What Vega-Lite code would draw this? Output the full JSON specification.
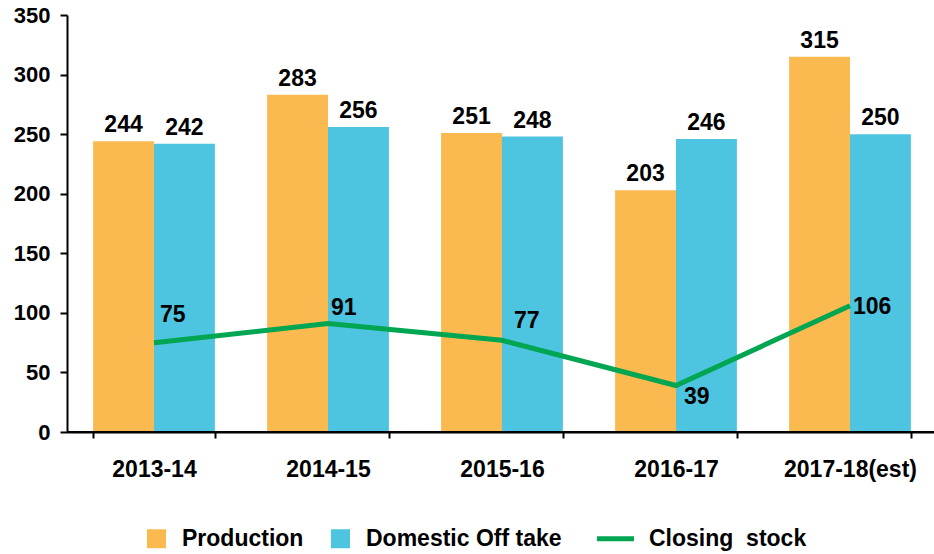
{
  "$schema": "https://vega.github.io/schema/vega-lite/v6.json",
  "width": 870,
  "height": 417,
  "autosize": "none",
  "padding": {"left": 67, "top": 15, "right": 0, "bottom": 122},
  "background": "white",
  "config": {
    "font": "Liberation Sans",
    "view": {"stroke": null},
    "axis": {
      "grid": false,
      "labelFont": "Liberation Sans",
      "labelFontWeight": "bold",
      "labelFontSize": 22,
      "labelColor": "black",
      "domainColor": "black",
      "tickColor": "black",
      "domainWidth": 2,
      "tickWidth": 2
    },
    "text": {"font": "Liberation Sans", "fontWeight": "bold", "fontSize": 23, "color": "black"}
  },
  "data": {
    "values": [
      {"year": "2013-14", "series": "Production", "value": 244},
      {"year": "2013-14", "series": "Domestic Off take", "value": 242},
      {"year": "2013-14", "series": "Closing  stock", "value": 75},
      {"year": "2014-15", "series": "Production", "value": 283},
      {"year": "2014-15", "series": "Domestic Off take", "value": 256},
      {"year": "2014-15", "series": "Closing  stock", "value": 91},
      {"year": "2015-16", "series": "Production", "value": 251},
      {"year": "2015-16", "series": "Domestic Off take", "value": 248},
      {"year": "2015-16", "series": "Closing  stock", "value": 77},
      {"year": "2016-17", "series": "Production", "value": 203},
      {"year": "2016-17", "series": "Domestic Off take", "value": 246},
      {"year": "2016-17", "series": "Closing  stock", "value": 39},
      {"year": "2017-18(est)", "series": "Production", "value": 315},
      {"year": "2017-18(est)", "series": "Domestic Off take", "value": 250},
      {"year": "2017-18(est)", "series": "Closing  stock", "value": 106}
    ]
  },
  "encoding": {
    "x": {
      "field": "year",
      "type": "nominal",
      "sort": null,
      "scale": {"paddingInner": 0.3, "paddingOuter": 0.15},
      "axis": {"title": null, "labelAngle": 0, "labelFontSize": 23, "tickBand": "extent", "tickSize": 6, "labelPadding": 20}
    },
    "y": {
      "field": "value",
      "type": "quantitative",
      "scale": {"domain": [0, 350]},
      "axis": {"title": null, "values": [0, 50, 100, 150, 200, 250, 300, 350], "tickSize": 7, "labelPadding": 10}
    }
  },
  "layer": [
    {
      "transform": [{"filter": "datum.series !== 'Closing  stock'"}],
      "mark": {"type": "bar"},
      "encoding": {
        "xOffset": {"field": "series", "type": "nominal", "sort": ["Production", "Domestic Off take"], "scale": {"paddingInner": 0, "paddingOuter": 0}},
        "color": {
          "field": "series",
          "type": "nominal",
          "scale": {"domain": ["Production", "Domestic Off take", "Closing  stock"], "range": ["#FBBA50", "#4EC5E0", "#00A651"]},
          "legend": {
            "title": null,
            "orient": "none",
            "legendX": 78,
            "legendY": 512,
            "direction": "horizontal",
            "symbolSize": 1369,
            "labelFontSize": 23,
            "labelFont": "Liberation Sans",
            "labelFontWeight": "bold",
            "labelColor": "black",
            "labelLimit": 0,
            "labelOffset": 14,
            "columnPadding": 25,
            "labelExpr": "replace(datum.label, '  ', '\u00a0\u00a0')",
            "encode": {
              "symbols": {
                "update": {
                  "shape": {"signal": "datum.value === 'Closing  stock' ? 'stroke' : 'square'"},
                  "size": {"signal": "datum.value === 'Closing  stock' ? 1369 : 361"},
                  "strokeWidth": {"signal": "datum.value === 'Closing  stock' ? 5 : 0"},
                  "stroke": {"scale": "color", "field": "value"},
                  "fill": {"scale": "color", "field": "value"},
                  "opacity": {"value": 1},
                  "fillOpacity": {"value": 1}
                }
              },
              "labels": {
                "update": {
                  "dx": {"signal": "datum.value === 'Closing  stock' ? 8 : 0"}
                }
              }
            }
          }
        }
      }
    },
    {
      "transform": [{"filter": "datum.series !== 'Closing  stock'"}],
      "mark": {"type": "text", "baseline": "alphabetic", "dy": -9},
      "encoding": {
        "xOffset": {"field": "series", "type": "nominal", "sort": ["Production", "Domestic Off take"]},
        "text": {"field": "value", "type": "quantitative"}
      }
    },
    {
      "mark": {"type": "rule", "color": "black", "strokeWidth": 2},
      "encoding": {"x": null, "y": {"datum": 0}}
    },
    {
      "transform": [{"filter": "datum.series === 'Closing  stock'"}],
      "mark": {"type": "line", "strokeWidth": 5},
      "encoding": {
        "color": {"field": "series", "type": "nominal"}
      }
    },
    {
      "transform": [{"filter": "datum.series === 'Closing  stock' && datum.year === '2013-14'"}],
      "mark": {"type": "text", "align": "left", "baseline": "alphabetic", "dx": 6, "dy": -21},
      "encoding": {"text": {"field": "value", "type": "quantitative"}}
    },
    {
      "transform": [{"filter": "datum.series === 'Closing  stock' && datum.year === '2014-15'"}],
      "mark": {"type": "text", "align": "left", "baseline": "alphabetic", "dx": 3, "dy": -9},
      "encoding": {"text": {"field": "value", "type": "quantitative"}}
    },
    {
      "transform": [{"filter": "datum.series === 'Closing  stock' && datum.year === '2015-16'"}],
      "mark": {"type": "text", "align": "left", "baseline": "alphabetic", "dx": 12, "dy": -12},
      "encoding": {"text": {"field": "value", "type": "quantitative"}}
    },
    {
      "transform": [{"filter": "datum.series === 'Closing  stock' && datum.year === '2016-17'"}],
      "mark": {"type": "text", "align": "left", "baseline": "alphabetic", "dx": 8, "dy": 18},
      "encoding": {"text": {"field": "value", "type": "quantitative"}}
    },
    {
      "transform": [{"filter": "datum.series === 'Closing  stock' && datum.year === '2017-18(est)'"}],
      "mark": {"type": "text", "align": "left", "baseline": "alphabetic", "dx": 3, "dy": 8},
      "encoding": {"text": {"field": "value", "type": "quantitative"}}
    }
  ]
}
